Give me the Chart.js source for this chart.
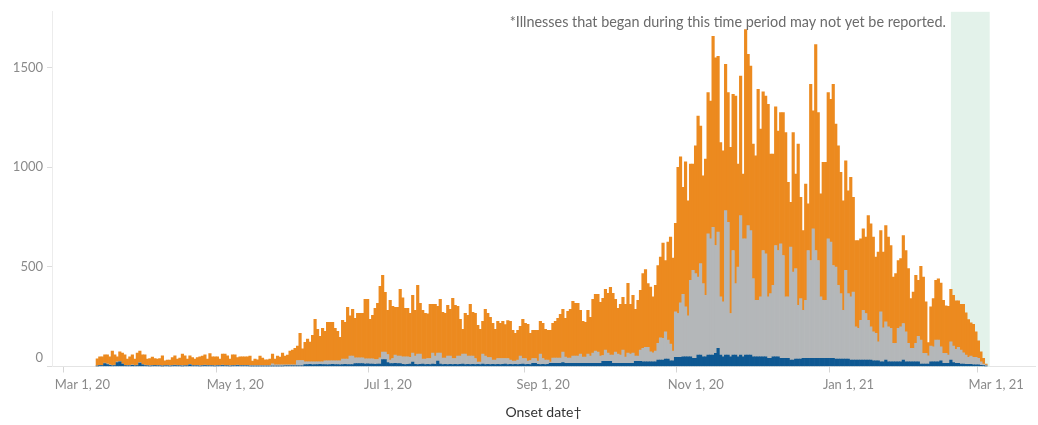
<!DOCTYPE html>
<html>
<head>
<meta charset="utf-8">
<script src="https://cdn.jsdelivr.net/npm/chart.js@4.4.1/dist/chart.umd.min.js"></script>
<style>
  html, body { margin: 0; background: #fff; }
  #wrap { width: 1038px; height: 425px; position: relative; }
</style>
</head>
<body>
<div id="wrap"><canvas id="onset"></canvas></div>
<script>
// one bar per onset day, starting here
const firstOnset = '2020-03-14';

// bar heights (all three parts together)
const dailyTotals = [
  38,48,48,58,58,48,78,58,48,73, 67,58,37,48,58,37,67,78,58,58, 37,40,47,40,37,40,53,28,32,32,
  45,53,37,42,62,53,37,53,45,37, 45,48,52,58,37,65,48,48,48,37, 62,62,53,37,58,58,45,48,48,48,48,
  52,27,37,34,52,42,34,34,37,62, 37,52,47,67,52,57,77,82,91,102, 167,89,121,137,122,157,237,187,151,191,
  177,222,222,222,192,177,147,232,222,297, 254,287,242,267,267,267,337,337,237,257, 292,317,402,457,372,282,332,302,297,297, 387,
  344,292,292,267,357,282,407,317,282,267, 264,312,312,312,302,337,272,267,307,287, 342,307,302,237,187,267,257,312,272,267,
  207,187,227,287,267,247,217,187,227,217, 227,210,230,227,182,167,182,202,237,217, 212,167,182,182,182,227,217,187,182,
  182,217,227,242,262,287,242,277,287,327, 317,317,282,227,222,282,247,337,362,362, 322,342,387,367,397,367,337,292,312,347,
  312,417,312,357,287,332,382,
  466,486,416,399,349,407,507,549,619,532, 624,649,544,719,999,1052,899,1027,832,1016, 1016,1107,1257,1207,
  957,1041,1374,1332,1657,1549,1557,1124,1082,1516, 1374,1100,1366,1357,1016,1457,966,1691,1566,1507, 1116,1057,1391,
  1191,1379,1357,1316,1066,1066,1303,1182,1274,1274, 1174,924,824,1174,966,1116,849,682,916,816, 1416,1283,1616,
  1274,866,1024,1024,1374,1341,1416,1216,1107,974, 832,1032,882,949,849,632,632,641,691,649, 757,716,649,549,574,
  682,574,707,649,607,449,466,532,541,657, 582,491,341,374,457,432,503,449,324,120, 299,341,432,440,
  419,332,304,302,387,357,329,329,312,312, 269,236,219,212,174,129,74,41,12
];

// grey part
const grayCases = [
  1,2,1,2,3,2,1,2,3,2, 2,1,2,3,2,1,2,3,2,2, 1,2,2,1,2,2,1,1,2,2,
  2,3,2,2,3,2,2,3,2,2, 3,2,2,3,2,3,2,2,3,2, 3,2,2,3,2,3,3,2,3,3,3,
  3,3,3,3,3,3,3,3,3,12, 6,6,6,6,5,5,5,5,5,27, 27,27,14,14,13,15,14,14,13,14,
  18,19,18,17,18,18,19,27,26,27, 42,42,29,29,29,29,26,25,26,26, 24,23,32,37,37,40,17,25,41,37, 37,
  38,39,38,34,45,41,52,51,25,27, 29,30,55,41,40,55,32,31,42,41, 30,29,42,41,50,52,41,42,41,30,
  11,12,50,42,34,35,21,22,29,30, 29,28,30,21,17,16,22,41,28,30, 16,20,24,24,16,52,29,22,21,
  6,26,26,26,26,52,31,26,26,36, 36,36,46,31,31,46,36,51,61,56, 36,29,56,41,31,41,56,46,41,66,
  31,51,46,51,26,26,56,
  67,72,72,50,45,53,84,112,109,137, 95,83,48,228,220,273,313,250,205,383, 441,425,392,459,
  367,308,609,584,642,541,583,292,275,725, 667,217,525,359,450,700,592,584,650,625, 392,283,283,
  300,533,517,308,325,358,558,533,575,516, 308,308,567,442,454,270,304,241,291,541, 491,650,541,
  491,308,291,291,600,583,466,462,370,329, 245,445,329,317,342,167,159,200,250,234, 200,167,146,138,96,
  250,170,192,175,167,92,92,167,175,184, 150,92,67,67,92,128,120,54,54,42, 78,75,108,108,
  70,50,50,41,92,82,70,80,70,57, 46,35,41,37,37,33,18,8,5
];

// dark blue part at the bottom
const blueCases = [
  2,4,5,15,10,6,3,5,20,23, 12,5,3,3,6,3,5,17,8,5, 3,2,3,4,3,3,2,3,3,2,
  3,4,3,3,2,3,3,8,3,3, 3,2,3,4,3,3,3,2,3,3, 4,3,3,2,3,3,4,3,3,3,3,
  2,2,2,2,2,2,2,2,2,2, 2,2,2,2,3,3,3,3,3,3, 3,3,10,10,11,9,10,10,11,10,
  10,9,10,11,10,10,9,10,11,10, 10,10,15,15,15,15,12,13,12,12, 11,12,12,35,35,20,15,15,16,15, 15,
  11,10,11,12,22,11,10,11,12,10, 11,10,12,11,27,12,10,11,10,11, 10,11,10,11,12,10,11,10,11,10,
  11,10,12,10,11,10,11,10,11,10, 11,12,10,11,10,11,10,11,12,10, 11,10,16,16,11,10,11,10,11,
  16,16,16,16,16,20,16,16,16,16, 16,16,16,16,16,16,16,16,16,16, 16,26,26,26,26,16,16,16,16,16,
  16,16,16,16,26,26,26,
  24,24,24,24,24,24,32,32,32,37, 37,29,29,46,46,46,49,49,49,49, 41,41,57,57,
  49,49,57,57,57,66,91,57,49,57, 57,49,57,57,49,57,49,57,57,57, 49,49,49,
  49,49,49,41,41,49,49,49,41,41, 41,41,32,32,37,37,37,41,41,41, 41,41,41,
  41,41,41,41,41,41,41,37,37,37, 37,37,37,32,32,32,32,32,32,32, 32,32,28,28,28,
  24,24,32,24,24,24,24,24,24,32, 24,24,24,24,24,24,12,12,12,12, 24,24,24,24,
  29,16,16,16,32,20,16,16,12,12, 11,11,11,9,9,8,6,4,2
];

const tickDates = ['2020-03-01', '2020-05-01', '2020-07-01', '2020-09-01', '2020-11-01', '2021-01-01', '2021-03-01'];
const tickLabels = ['Mar 1, 20', 'May 1, 20', 'Jul 1, 20', 'Sep 1, 20', 'Nov 1, 20', 'Jan 1, 21', 'Mar 1, 21'];
const yTicks = [0, 500, 1000, 1500];

const shadeFrom = '2021-02-18';
const shadeTo = '2021-03-06';
const footnote = '*Illnesses that began during this time period may not yet be reported.';

const colors = { orange: '#ec8a1f', gray: '#b4b7b9', blue: '#0e5892' };
const FONT = 'Lato, "Open Sans", sans-serif';

// days since Mar 1, 2020
function dayOf(s) {
  return Math.round((Date.parse(s) - Date.parse('2020-03-01')) / 86400000);
}

const start = dayOf(firstOnset);
const xs = dailyTotals.map((_, i) => start + i + 0.5);   // bar sits in the middle of its day
const orangeCases = dailyTotals.map((t, i) => Math.max(0, t - grayCases[i] - blueCases[i]));

const lateBand = {
  id: 'lateBand',
  beforeDatasetsDraw(chart) {
    const { ctx, chartArea, scales: { x } } = chart;
    const l = x.getPixelForValue(dayOf(shadeFrom) + 0.5);
    const r = x.getPixelForValue(dayOf(shadeTo));
    ctx.save();
    ctx.fillStyle = '#e3f2ea';
    ctx.fillRect(l, chartArea.top, r - l, chartArea.bottom - chartArea.top);
    ctx.restore();
  },
  afterDraw(chart) {
    const { ctx, chartArea, scales: { x, y } } = chart;
    const l = x.getPixelForValue(dayOf(shadeFrom) + 0.5);
    ctx.save();
    ctx.font = '14.4px ' + FONT;
    ctx.fillStyle = '#6b6b6b';
    ctx.textAlign = 'right';
    ctx.textBaseline = 'middle';
    ctx.fillText(footnote, l - 5, chartArea.top + 11);
    // zero label sits a little above its tick, as in the original
    ctx.font = '13px ' + FONT;
    ctx.fillStyle = '#8a8a8a';
    ctx.fillText('0', y.right - 9, y.getPixelForValue(0) - 9);
    ctx.restore();
  }
};

new Chart(document.getElementById('onset'), {
  type: 'bar',
  data: {
    datasets: [
      { label: 'blue', data: xs.map((x, i) => ({ x, y: blueCases[i] })), backgroundColor: colors.blue },
      { label: 'gray', data: xs.map((x, i) => ({ x, y: grayCases[i] })), backgroundColor: colors.gray },
      { label: 'orange', data: xs.map((x, i) => ({ x, y: orangeCases[i] })), backgroundColor: colors.orange }
    ]
  },
  options: {
    responsive: true,
    maintainAspectRatio: false,
    animation: false,
    layout: { padding: { top: 11, right: 3, left: 0, bottom: 0 } },
    datasets: { bar: { barPercentage: 1, categoryPercentage: 1, borderWidth: 0 } },
    plugins: { legend: { display: false }, tooltip: { enabled: false } },
    scales: {
      x: {
        type: 'linear',
        offset: false,
        stacked: true,
        min: -4.6,
        max: 388.1,
        afterBuildTicks(scale) { scale.ticks = tickDates.map(d => ({ value: dayOf(d) })); },
        afterFit(scale) { scale.height = 58.5; },
        ticks: {
          autoSkip: false,
          maxRotation: 0,
          padding: 5,
          labelOffset: 19,
          color: '#8a8a8a',
          font: { family: FONT, size: 13 },
          callback: (v) => tickLabels[tickDates.findIndex(d => dayOf(d) === v)]
        },
        grid: { offset: false, drawOnChartArea: false, drawTicks: true, tickLength: 6, color: '#d6d6d6' },
        border: { display: true, color: '#e4e4e4' },
        title: {
          display: true,
          text: 'Onset date\u2020',
          color: '#333333',
          font: { family: FONT, size: 14 },
          padding: { top: 0, bottom: 4 }
        }
      },
      y: {
        stacked: true,
        min: 0,
        max: 1780,
        afterBuildTicks(scale) { scale.ticks = yTicks.map(v => ({ value: v })); },
        afterFit(scale) { scale.width = 52; },
        ticks: {
          padding: 4,
          color: '#8a8a8a',
          font: { family: FONT, size: 13 },
          callback: (v) => (v === 0 ? '' : String(v))
        },
        grid: { drawOnChartArea: false, drawTicks: true, tickLength: 5, color: '#dcdcdc' },
        border: { display: true, color: '#ececec' }
      }
    }
  },
  plugins: [lateBand]
});
</script>
</body>
</html>
